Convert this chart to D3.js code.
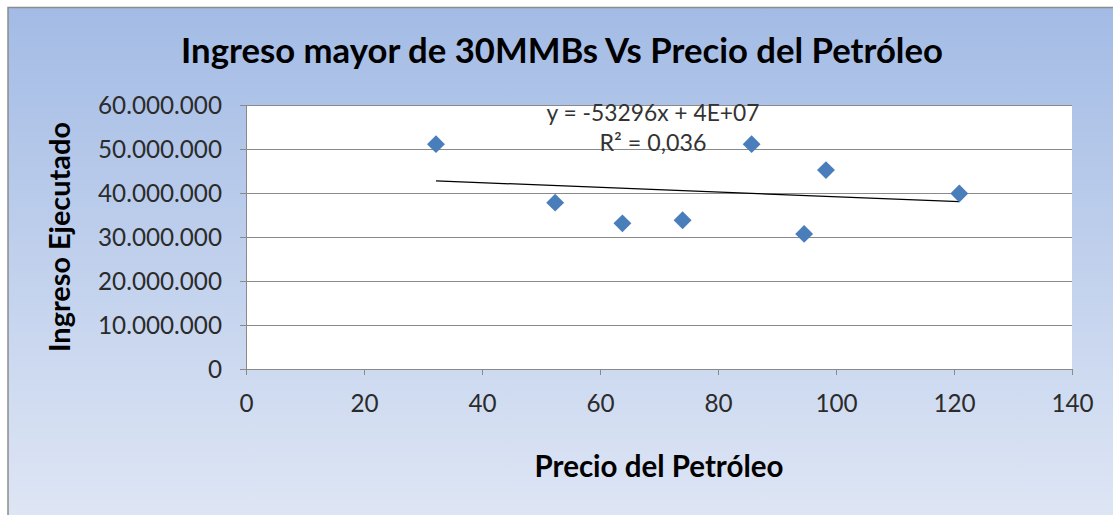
<!DOCTYPE html>
<html>
<head>
<meta charset="utf-8">
<script src="https://cdn.jsdelivr.net/npm/d3@7"></script>
<style>
  html, body { margin: 0; padding: 0; background: #ffffff; }
  svg { display: block; font-family: Lato, "Open Sans", sans-serif; }
</style>
</head>
<body>
<svg id="chart" width="1113" height="515"></svg>
<script>
// ---- data ----
const precio  = [32.2, 52.4, 63.8, 74.0, 85.7, 94.6, 98.3, 120.9];
const ingreso = [51100000, 37800000, 33100000, 33800000, 51100000, 30700000, 45200000, 39900000];
const xTicks = [0, 20, 40, 60, 80, 100, 120, 140];
const yTicks = [0, 10000000, 20000000, 30000000, 40000000, 50000000, 60000000];
const titleText = "Ingreso mayor de 30MMBs Vs Precio del Petróleo";
const xTitle = "Precio del Petróleo";
const yTitle = "Ingreso Ejecutado";
const eqLines = ["y = -53296x + 4E+07", "R² = 0,036"];

const svg = d3.select("#chart");
const W = 1113, H = 515;

// background chart area with gradient
const defs = svg.append("defs");
const grad = defs.append("linearGradient").attr("id", "bg").attr("x1", 0).attr("y1", 0).attr("x2", 0).attr("y2", 1);
grad.append("stop").attr("offset", "0%").attr("stop-color", "#a3bbe5");
grad.append("stop").attr("offset", "100%").attr("stop-color", "#e1e8f5");

svg.append("rect").attr("x", 0).attr("y", 0).attr("width", W).attr("height", H).attr("fill", "#ffffff");
svg.append("rect").attr("x", 8).attr("y", 7.5).attr("width", W + 20).attr("height", H + 20)
  .attr("fill", "url(#bg)").attr("stroke", "#8c8c8c").attr("stroke-width", 1.5);

// scales
const x = d3.scaleLinear().domain([0, 140]).range([246, 1072]);
const y = d3.scaleLinear().domain([0, 60000000]).range([369, 105]);

// plot area
svg.append("rect").attr("x", x(0)).attr("y", y(60000000))
  .attr("width", x(140) - x(0)).attr("height", y(0) - y(60000000)).attr("fill", "#ffffff");

const loc = d3.formatLocale({decimal: ",", thousands: ".", grouping: [3], currency: ["", ""]});
const fmt = loc.format(",d");

function fitWidth(sel, target) {
  const node = sel.node();
  const fs = parseFloat(sel.attr("font-size"));
  const w = node.getComputedTextLength();
  if (w > 0) sel.attr("font-size", (fs * target / w).toFixed(2));
}

// gridlines
svg.append("g").selectAll("line").data(yTicks.filter(d => d > 0)).join("line")
  .attr("x1", x(0)).attr("x2", x(140))
  .attr("y1", d => Math.round(y(d)) + 0.5).attr("y2", d => Math.round(y(d)) + 0.5)
  .attr("stroke", "#8a8a8a").attr("stroke-width", 1);

// y axis
const yAxis = svg.append("g").attr("transform", `translate(${x(0)},0)`)
  .call(d3.axisLeft(y).tickValues(yTicks).tickFormat(fmt).tickSizeInner(6).tickSizeOuter(0).tickPadding(18));
yAxis.select(".domain").attr("stroke", "#8a8a8a");
yAxis.selectAll(".tick line").attr("stroke", "#8a8a8a");
yAxis.selectAll(".tick text").attr("font-family", "Lato, sans-serif").attr("font-size", 22)
  .attr("fill", "#2b2b2b").attr("dy", "0.36em");

// x axis
const xAxis = svg.append("g").attr("transform", `translate(0,${y(0)})`)
  .call(d3.axisBottom(x).tickValues(xTicks).tickSizeInner(6).tickSizeOuter(0).tickPadding(20));
xAxis.select(".domain").attr("stroke", "#8a8a8a");
xAxis.selectAll(".tick line").attr("stroke", "#8a8a8a");
xAxis.selectAll(".tick text").attr("font-family", "Lato, sans-serif").attr("font-size", 22)
  .attr("fill", "#2b2b2b");

// fit tick fonts to measured width of "60.000.000" (124px)
{
  const t = yAxis.selectAll(".tick text").filter(d => d === 60000000);
  const w = t.node().getComputedTextLength();
  const fs = 22 * 124 / w;
  yAxis.selectAll(".tick text").attr("font-size", fs);
  xAxis.selectAll(".tick text").attr("font-size", fs);
}

// trendline (least squares from the data)
const n = precio.length;
const mx = d3.mean(precio), my = d3.mean(ingreso);
let sxy = 0, sxx = 0;
for (let i = 0; i < n; i++) { sxy += (precio[i] - mx) * (ingreso[i] - my); sxx += (precio[i] - mx) ** 2; }
const slope = sxy / sxx, icpt = my - slope * mx;
const xmin = d3.min(precio), xmax = d3.max(precio);
svg.append("line")
  .attr("x1", x(xmin)).attr("y1", y(icpt + slope * xmin))
  .attr("x2", x(xmax)).attr("y2", y(icpt + slope * xmax))
  .attr("stroke", "#000000").attr("stroke-width", 1.3);

// points
const sym = d3.symbol().type(d3.symbolSquare).size(160);
svg.append("g").selectAll("path").data(precio.map((p, i) => [p, ingreso[i]])).join("path")
  .attr("d", sym)
  .attr("transform", d => `translate(${x(d[0])},${y(d[1])}) rotate(45)`)
  .attr("fill", "#4a7ebb");

// equation label
const eqW = [213, 107];
const eqY = [121, 151];
eqLines.forEach((s, i) => {
  const t = svg.append("text").attr("x", 653).attr("y", eqY[i]).attr("text-anchor", "middle")
    .attr("font-family", "Lato, sans-serif").attr("font-size", 20).attr("fill", "#333333").text(s);
  fitWidth(t, eqW[i]);
});

// title
const tt = svg.append("text").attr("x", 562).attr("y", 63).attr("text-anchor", "middle")
  .attr("font-family", "Lato, sans-serif").attr("font-weight", "bold").attr("font-size", 30)
  .attr("fill", "#000000").text(titleText);
fitWidth(tt, 762);

// x axis title
const xt = svg.append("text").attr("x", (x(0) + x(140)) / 2).attr("y", 477).attr("text-anchor", "middle")
  .attr("font-family", "Lato, sans-serif").attr("font-weight", "bold").attr("font-size", 24)
  .attr("fill", "#000000").text(xTitle);
fitWidth(xt, 249);

// y axis title (same size as x title, centred on the plot area)
const yt = svg.append("text")
  .attr("transform", `translate(70,${(y(0) + y(60000000)) / 2}) rotate(-90)`).attr("text-anchor", "middle")
  .attr("font-family", "Lato, sans-serif").attr("font-weight", "bold").attr("font-size", xt.attr("font-size"))
  .attr("fill", "#000000").text(yTitle);
fitWidth(yt, 230);
</script>
</body>
</html>
